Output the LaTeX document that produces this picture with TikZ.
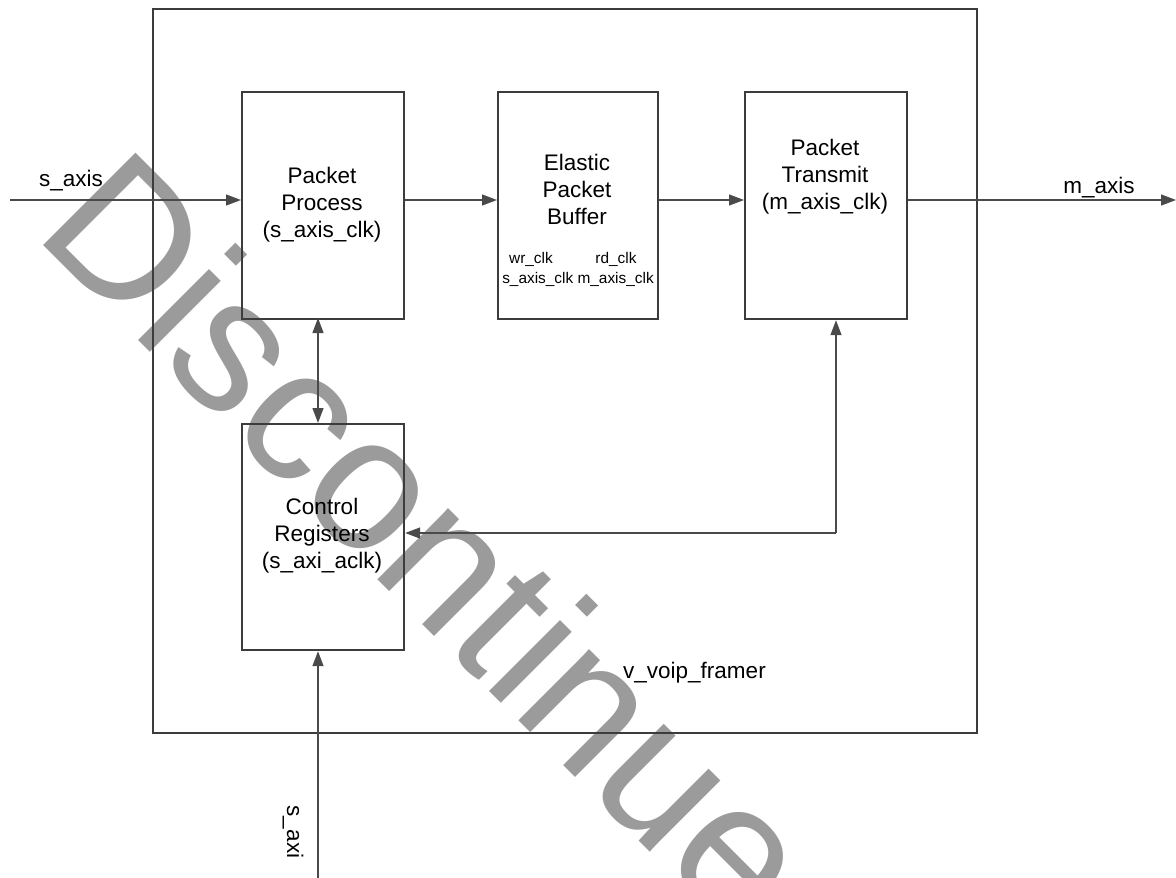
\documentclass[tikz,border=0pt]{standalone}
\usepackage{fontspec}
\setmainfont{Liberation Sans}
\usetikzlibrary{arrows.meta}
\definecolor{boxc}{HTML}{3C3C3C}
\definecolor{linec}{HTML}{4A4A4A}
\definecolor{wmgray}{HTML}{9B9B9B}
\begin{document}
\begin{tikzpicture}[x=1pt,y=-1pt,
  blk/.style={draw=boxc, line width=2.2pt, rectangle, inner sep=0pt, anchor=north west},
  conn/.style={draw=linec, line width=1.3pt, -{Triangle[length=15pt,width=11pt]}},
  bconn/.style={draw=linec, line width=1.3pt, {Triangle[length=15pt,width=11pt]}-{Triangle[length=15pt,width=11pt]}},
  lbl/.style={inner sep=0pt, align=center, font=\fontsize{22.5}{27}\selectfont},
  small/.style={inner sep=0pt, font=\fontsize{15.4}{19}\selectfont, anchor=base},
  wmark/.style={inner sep=0pt, text=wmgray, font=\fontsize{190}{190}\selectfont}
]
\useasboundingbox (0,0) rectangle (1176,878);
\clip (0,0) rectangle (1176,878);

% watermark
\node[wmark, rotate=-45, anchor=base west] (wm) at (32,234) {Discontinued};

% outer block
\node[blk, minimum width=824pt, minimum height=724pt] (outer) at (152,8) {};
\node[lbl, anchor=base west] (outl) at (623,678) {v\_voip\_framer};

% inner blocks
\node[blk, minimum width=162pt, minimum height=227pt] (pp) at (241,91) {};
\node[blk, minimum width=160pt, minimum height=227pt] (epb) at (497,91) {};
\node[blk, minimum width=162pt, minimum height=227pt] (pt) at (744,91) {};
\node[blk, minimum width=162pt, minimum height=226pt] (cr) at (241,423) {};

% block texts
\node[lbl] (ppt) at (322,205) {Packet\\Process\\(s\_axis\_clk)};
\node[lbl] (epbt) at (577,189) {Elastic\\Packet\\Buffer};
\node[small] (wr) at (531,263) {wr\_clk};
\node[small] (rd) at (616,263) {rd\_clk};
\node[small] (clks) at (578,283) {s\_axis\_clk m\_axis\_clk};
\node[lbl] (ptt) at (825,177) {Packet\\Transmit\\(m\_axis\_clk)};
\node[lbl] (crt) at (322,536) {Control\\Registers\\(s\_axi\_aclk)};

% connectors
\coordinate (sin) at (10,200);
\coordinate (mout) at (1176,200);
\coordinate (sax) at (318,878);
\coordinate (bend) at (836,533);

\draw[conn] (sin) -- (sin -| pp.west);
\node[lbl, anchor=base] (sl) at (71,186) {s\_axis};
\draw[conn] (pp.east |- sin) -- (sin -| epb.west);
\draw[conn] (epb.east |- sin) -- (sin -| pt.west);
\draw[conn] (pt.east |- sin) -- (mout);
\node[lbl, anchor=base] (ml) at (1099,193) {m\_axis};

\draw[bconn] (318,318) -- (318,423);
\draw[conn] (sax) -- (sax |- cr.south);
\node[lbl, rotate=-90] (sl2) at (293,832) {s\_axi};

\draw[conn] (bend) -- (bend |- pt.south);
\draw[conn] (bend) -- (bend -| cr.east);
\end{tikzpicture}
\end{document}
